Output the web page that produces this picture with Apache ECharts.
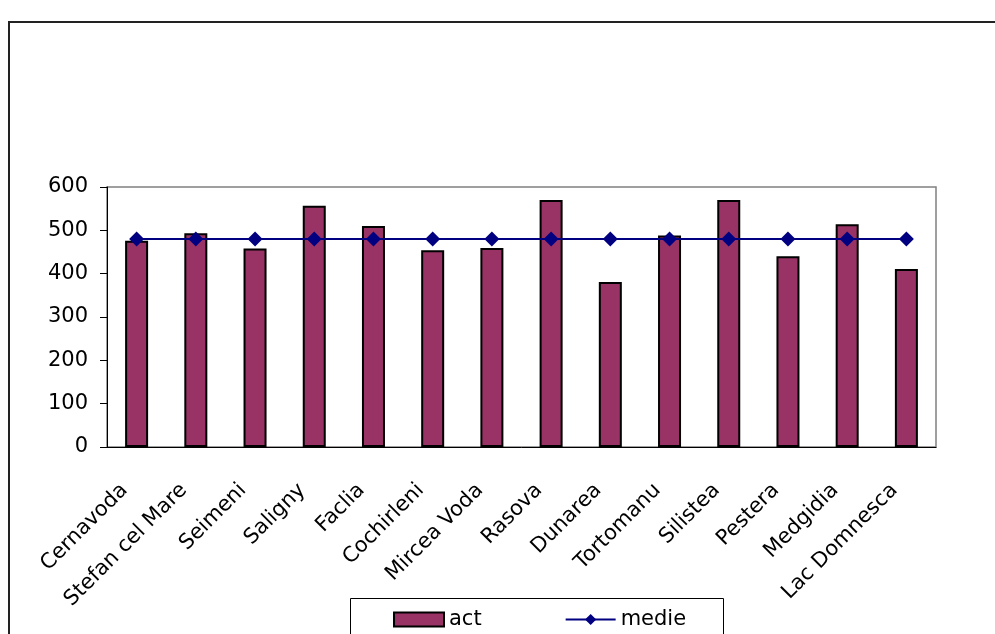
<!DOCTYPE html>
<html>
<head>
<meta charset="utf-8">
<script src="https://cdn.jsdelivr.net/npm/echarts@6/dist/echarts.min.js"></script>
<style>
	html, body { margin: 0; padding: 0; background: #fff; }
	#chart { width: 995px; height: 634px; }
</style>
</head>
<body>
<div id="chart"></div>
<script>
	// localitati si valori
	var categories = [ "Cernavoda", "Stefan cel Mare", "Seimeni", "Saligny", "Faclia",
			"Cochirleni", "Mircea Voda", "Rasova", "Dunarea", "Tortomanu", "Silistea",
			"Pestera", "Medgidia", "Lac Domnesca" ];
	var actValues = [ 476, 493, 458, 557, 510, 454, 459, 570, 381, 488, 570, 440, 514, 411 ];
	var medieValues = [ 480, 480, 480, 480, 480, 480, 480, 480, 480, 480, 480, 480, 480, 480 ];
	var yTicks = { min : 0, max : 600, interval : 100 };

	var fontName = "DejaVu Sans";
	var myChart = echarts.init(document.getElementById('chart'));
	var option = {
		animation : false,
		backgroundColor : '#fff',
		grid : {
			left : 107,
			right : 59,
			top : 187,
			bottom : 187,
			show : true,
			borderColor : '#808080',
			borderWidth : 1.5,
			containLabel : false
		},
		legend : {
			left : 393,
			top : 609,
			padding : 0,
			itemWidth : 50,
			itemHeight : 14,
			itemGap : 83,
			textStyle : {
				fontFamily : fontName,
				fontSize : 21,
				color : '#000'
			},
			data : [ {
				name : 'act',
				icon : 'rect'
			}, {
				name : 'medie'
			} ]
		},
		xAxis : {
			type : 'category',
			data : categories,
			boundaryGap : true,
			axisLine : {
				lineStyle : { color : '#000', width : 1 }
			},
			axisTick : {
				length : 7,
				lineStyle : { color : '#333' }
			},
			axisLabel : {
				interval : 0,
				rotate : 45,
				margin : 28,
				padding : [ 0, 17, 0, 0 ],
				fontFamily : fontName,
				fontSize : 21,
				color : '#000'
			}
		},
		yAxis : {
			type : 'value',
			min : yTicks.min,
			max : yTicks.max,
			interval : yTicks.interval,
			axisLine : {
				show : true,
				lineStyle : { color : '#000', width : 1 }
			},
			axisTick : {
				show : true,
				length : 7,
				lineStyle : { color : '#000' }
			},
			splitLine : { show : false },
			axisLabel : {
				margin : 19,
				fontFamily : fontName,
				fontSize : 21,
				color : '#000'
			}
		},
		series : [ {
			name : 'act',
			type : 'bar',
			data : actValues,
			barWidth : 23,
			itemStyle : {
				color : '#993366',
				borderColor : '#000',
				borderWidth : 2
			}
		}, {
			name : 'medie',
			type : 'line',
			data : medieValues,
			z : 5,
			symbol : 'diamond',
			symbolSize : 15,
			color : '#000080',
			lineStyle : { color : '#000080', width : 2 },
			itemStyle : { color : '#000080' }
		} ],
		graphic : [ {
			// chenarul exterior
			type : 'rect',
			shape : { x : 9, y : 22, width : 1000, height : 700 },
			style : { fill : 'none', stroke : '#222', lineWidth : 2 },
			silent : true
		}, {
			// chenarul legendei
			type : 'rect',
			shape : { x : 350.5, y : 598.5, width : 373, height : 60 },
			style : { fill : 'none', stroke : '#000', lineWidth : 1 },
			silent : true
		} ]
	};
	myChart.setOption(option);
</script>
</body>
</html>
